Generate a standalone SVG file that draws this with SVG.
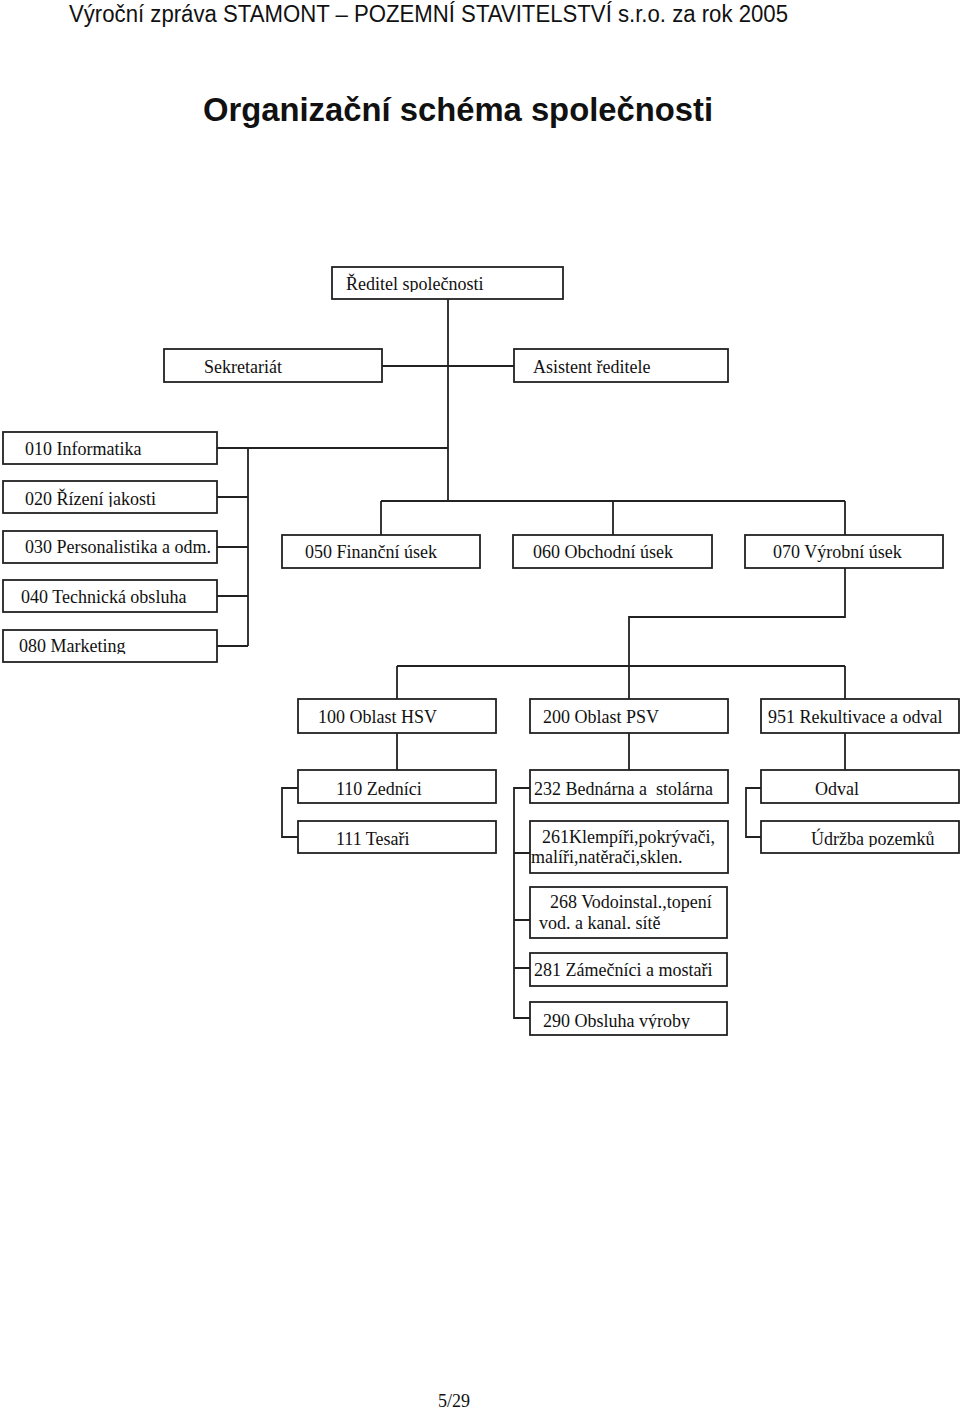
<svg xmlns="http://www.w3.org/2000/svg" width="960" height="1410" viewBox="0 0 960 1410">
<style>
.box{fill:#fff;stroke:#222;stroke-width:1.8}
.t{font-family:"Liberation Serif","Times New Roman",serif;font-size:18px;fill:#111}
.c{fill:none;stroke:#222;stroke-width:1.8}
.hdr{font-family:"Liberation Sans",Arial,sans-serif;fill:#111}
</style>
<defs>
<clipPath id="clR"><rect x="330" y="260" width="240" height="32"/></clipPath>
<clipPath id="cl020"><rect x="0" y="475" width="220" height="32"/></clipPath>
<clipPath id="cl080"><rect x="0" y="625" width="220" height="29"/></clipPath>
<clipPath id="clUd"><rect x="755" y="815" width="205" height="32"/></clipPath>
<clipPath id="cl290"><rect x="525" y="1000" width="205" height="29"/></clipPath>
</defs>
<rect width="960" height="1410" fill="#fff"/>
<text class="hdr" x="69" y="22" font-size="23" textLength="719" lengthAdjust="spacingAndGlyphs">Výroční zpráva STAMONT – POZEMNÍ STAVITELSTVÍ s.r.o. za rok 2005</text>
<text class="hdr" x="203" y="121" font-size="33" font-weight="bold" textLength="510" lengthAdjust="spacingAndGlyphs">Organizační schéma společnosti</text>

<g id="connectors">
<path class="c" d="M448 299V501M382 366H514M217 448H448M381 501H845M381 501V535M613 501V535M845 501V535"/>
<path class="c" d="M248 448V646M217 497H248M217 547H248M217 596H248M217 646H248"/>
<path class="c" d="M845 568V617H629V699M397 666H845M397 666V699M845 666V699"/>
<path class="c" d="M397 733V770M629 733V770M845 733V770"/>
<path class="c" d="M298 788H282V837H298"/>
<path class="c" d="M530 788H514V1018H530M514 853H530M514 920H530M514 968H530"/>
<path class="c" d="M761 788H746V837H761"/>
</g>

<g id="n-reditel"><rect class="box" x="332" y="267" width="231" height="32"/><text class="t" x="346" y="290" clip-path="url(#clR)">Ředitel společnosti</text></g>
<g id="n-sekretariat"><rect class="box" x="164" y="349" width="218" height="33"/><text class="t" x="204" y="373">Sekretariát</text></g>
<g id="n-asistent"><rect class="box" x="514" y="349" width="214" height="33"/><text class="t" x="533" y="373">Asistent ředitele</text></g>

<g id="n-010"><rect class="box" x="3" y="432" width="214" height="32"/><text class="t" x="25" y="455">010 Informatika</text></g>
<g id="n-020"><rect class="box" x="3" y="481" width="214" height="32"/><text class="t" x="25" y="505" clip-path="url(#cl020)">020 Řízení jakosti</text></g>
<g id="n-030"><rect class="box" x="3" y="531" width="214" height="32"/><text class="t" x="25" y="553">030 Personalistika a odm.</text></g>
<g id="n-040"><rect class="box" x="3" y="580" width="214" height="32"/><text class="t" x="21" y="603">040 Technická obsluha</text></g>
<g id="n-080"><rect class="box" x="3" y="630" width="214" height="32"/><text class="t" x="19" y="652" clip-path="url(#cl080)">080 Marketing</text></g>

<g id="n-050"><rect class="box" x="282" y="535" width="198" height="33"/><text class="t" x="305" y="558">050 Finanční úsek</text></g>
<g id="n-060"><rect class="box" x="513" y="535" width="199" height="33"/><text class="t" x="533" y="558">060 Obchodní úsek</text></g>
<g id="n-070"><rect class="box" x="745" y="535" width="198" height="33"/><text class="t" x="773" y="558">070 Výrobní úsek</text></g>

<g id="n-100"><rect class="box" x="298" y="699" width="198" height="34"/><text class="t" x="318" y="723">100 Oblast HSV</text></g>
<g id="n-200"><rect class="box" x="530" y="699" width="198" height="34"/><text class="t" x="543" y="723">200 Oblast PSV</text></g>
<g id="n-951"><rect class="box" x="761" y="699" width="198" height="34"/><text class="t" x="768" y="723">951 Rekultivace a odval</text></g>

<g id="n-110"><rect class="box" x="298" y="770" width="198" height="33"/><text class="t" x="336" y="795">110 Zedníci</text></g>
<g id="n-111"><rect class="box" x="298" y="821" width="198" height="32"/><text class="t" x="336" y="845">111 Tesaři</text></g>

<g id="n-232"><rect class="box" x="530" y="770" width="198" height="33"/><text class="t" x="534" y="795" xml:space="preserve">232 Bednárna a  stolárna</text></g>
<g id="n-261"><rect class="box" x="530" y="821" width="198" height="52"/><text class="t" x="542" y="843">261Klempíři,pokrývači,</text><text class="t" x="531" y="863">malíři,natěrači,sklen.</text></g>
<g id="n-268"><rect class="box" x="530" y="887" width="197" height="51"/><text class="t" x="550" y="908">268 Vodoinstal.,topení</text><text class="t" x="539" y="929">vod. a kanal. sítě</text></g>
<g id="n-281"><rect class="box" x="530" y="953" width="197" height="33"/><text class="t" x="534" y="976">281 Zámečníci a mostaři</text></g>
<g id="n-290"><rect class="box" x="530" y="1002" width="197" height="33"/><text class="t" x="543" y="1027" clip-path="url(#cl290)">290 Obsluha výroby</text></g>

<g id="n-odval"><rect class="box" x="761" y="770" width="198" height="33"/><text class="t" x="815" y="795">Odval</text></g>
<g id="n-udrzba"><rect class="box" x="761" y="821" width="198" height="32"/><text class="t" x="811" y="845" clip-path="url(#clUd)">Údržba pozemků</text></g>

<text class="t" x="438" y="1407" font-size="21">5/29</text>
</svg>
